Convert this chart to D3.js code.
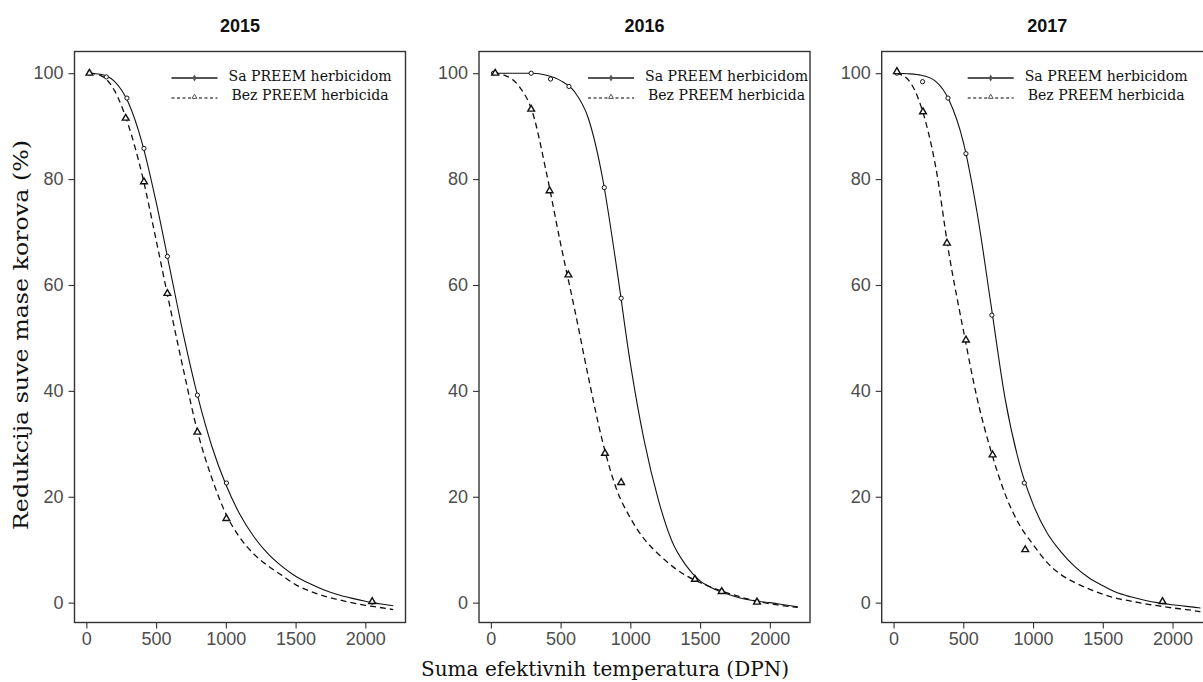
<!DOCTYPE html>
<html>
<head>
<meta charset="utf-8">
<script src="https://cdn.jsdelivr.net/npm/d3@7"></script>
<style>
  body { margin: 0; background: #fff; }
  .tick text { fill: #4d4d4d; }
</style>
</head>
<body>
<script>
// Redukcija suve mase korova - three years side by side

var years = ["2015", "2016", "2017"];
var seriesNames = ["Sa PREEM herbicidom", "Bez PREEM herbicida"];
var xTicks = [0, 500, 1000, 1500, 2000];
var yTicks = [0, 20, 40, 60, 80, 100];

// fitted curves at these DPN values
var curveX = [20, 100, 200, 300, 400, 500, 600, 700, 800, 900, 1000, 1100,
  1200, 1300, 1400, 1500, 1600, 1700, 1800, 1900, 2000, 2100, 2200];

var saCurve2015 = [100, 99.8, 98.5, 94.5, 86.8, 75.7, 62.9, 50.1, 38.8, 29.5, 22.3, 16.7,
  12.5, 9.3, 6.9, 5.0, 3.6, 2.45, 1.55, 0.85, 0.25, -0.2, -0.6];
var bezCurve2015 = [100, 99.6, 96.8, 90.3, 80.8, 68.5, 55.8, 43.5, 32.0, 23.5, 16.8, 12.3,
  9.2, 7.0, 5.2, 3.4, 2.2, 1.3, 0.6, 0.0, -0.5, -0.9, -1.3];
var saCurve2016 = [100, 100, 100, 100, 99.6, 98.6, 96.5, 91.4, 80.3, 63.6, 45.2, 30.5,
  19.5, 11.5, 7.0, 4.1, 2.6, 1.6, 0.8, 0.3, 0.0, -0.4, -0.8];
var bezCurve2016 = [100, 99.6, 97.6, 92.5, 81.0, 67.8, 55.5, 42.5, 30.5, 21.5, 16.0, 12.0,
  9.2, 6.9, 5.1, 3.8, 2.7, 1.8, 1.0, 0.3, -0.2, -0.6, -0.9];
var saCurve2017 = [100, 99.9, 99.6, 98.5, 94.8, 87.0, 73.5, 56.0, 38.5, 26.5, 18.6, 13.2,
  9.6, 6.8, 4.7, 3.2, 1.9, 1.1, 0.45, -0.05, -0.4, -0.7, -1.0];
var bezCurve2017 = [100, 98.9, 93.5, 82.6, 65.5, 51.5, 38.5, 28.5, 20.5, 14.8, 11.0, 7.6,
  5.3, 3.8, 2.6, 1.6, 0.8, 0.3, -0.2, -0.6, -1.0, -1.3, -1.7];

// measured points
var saX2015 = [22, 143, 291, 413, 581, 796, 1004, 2049];
var saY2015 = [100, 99.3, 95.3, 85.8, 65.4, 39.2, 22.6, 0.1];
var bezX2015 = [22, 282, 413, 581, 796, 1004, 2049];
var bezY2015 = [100, 91.5, 79.5, 58.4, 32.2, 15.9, 0.2];

var saX2016 = [19, 289, 428, 560, 813, 934, 1655, 1908];
var saY2016 = [100, 100, 98.9, 97.5, 78.4, 57.5, 2.2, 0.2];
var bezX2016 = [31, 289, 421, 556, 818, 934, 1463, 1655, 1908];
var bezY2016 = [100, 93.2, 77.8, 61.9, 28.2, 22.7, 4.4, 2.1, 0.1];

var saX2017 = [24, 208, 390, 519, 705, 937, 1928];
var saY2017 = [100, 98.4, 95.3, 84.8, 54.3, 22.6, 0.2];
var bezX2017 = [24, 211, 383, 519, 710, 944, 1928];
var bezY2017 = [100.3, 92.7, 67.9, 49.6, 27.9, 10.0, 0.2];

var saCurves = [saCurve2015, saCurve2016, saCurve2017];
var bezCurves = [bezCurve2015, bezCurve2016, bezCurve2017];
var saPts = [[saX2015, saY2015], [saX2016, saY2016], [saX2017, saY2017]];
var bezPts = [[bezX2015, bezY2015], [bezX2016, bezY2016], [bezX2017, bezY2017]];

function zip(xs, ys) {
  return xs.map(function (x, i) { return [x, ys[i]]; });
}

var W = 1203, H = 682;
var panelLeft = [74.5, 479, 881.7];
var panelW = 331;
var plotTop = 51.5, plotBottom = 622.5;
var tickFont = "'Liberation Sans', Arial, sans-serif";
var serif = "'DejaVu Serif', Georgia, serif";

var svg = d3.select("body").append("svg")
  .attr("width", W)
  .attr("height", H);

var y = d3.scaleLinear().domain([-3.75, 104.1]).range([plotBottom, plotTop]);

years.forEach(function (yr, i) {
  var left = panelLeft[i];
  var x = d3.scaleLinear().domain([-85, 2288]).range([left, left + panelW]);
  var g = svg.append("g");

  // title
  g.append("text")
    .attr("x", left + panelW / 2)
    .attr("y", 32)
    .attr("text-anchor", "middle")
    .style("font-family", tickFont)
    .style("font-weight", "bold")
    .style("font-size", "18px")
    .style("fill", "#111")
    .text(yr);

  // axes
  var xa = g.append("g")
    .attr("transform", "translate(0," + plotBottom + ")")
    .call(d3.axisBottom(x).tickValues(xTicks).tickFormat(d3.format("d")).tickSize(6).tickPadding(4));
  var ya = g.append("g")
    .attr("transform", "translate(" + left + ",0)")
    .call(d3.axisLeft(y).tickValues(yTicks).tickSize(6).tickPadding(5));
  [xa, ya].forEach(function (a) {
    a.select(".domain").remove();
    a.selectAll(".tick line").attr("stroke", "#333").attr("stroke-width", 1.1);
    a.selectAll(".tick text")
      .style("font-family", tickFont)
      .style("font-size", "18px");
  });

  var line = d3.line()
    .x(function (d) { return x(d[0]); })
    .y(function (d) { return y(d[1]); })
    .curve(d3.curveMonotoneX);

  g.append("path")
    .datum(zip(curveX, saCurves[i]))
    .attr("d", line)
    .attr("fill", "none")
    .attr("stroke", "#111")
    .attr("stroke-width", 1.1);

  g.append("path")
    .datum(zip(curveX, bezCurves[i]))
    .attr("d", line)
    .attr("fill", "none")
    .attr("stroke", "#111")
    .attr("stroke-width", 1.3)
    .attr("stroke-dasharray", "6,4");

  var circ = d3.symbol().type(d3.symbolCircle).size(14);
  var tri = d3.symbol().type(d3.symbolTriangle).size(20);

  g.selectAll(".sa")
    .data(zip(saPts[i][0], saPts[i][1]))
    .enter().append("path")
    .attr("transform", function (d) { return "translate(" + x(d[0]) + "," + y(d[1]) + ")"; })
    .attr("d", circ)
    .attr("fill", "#fff")
    .attr("stroke", "#111")
    .attr("stroke-width", 1);

  g.selectAll(".bez")
    .data(zip(bezPts[i][0], bezPts[i][1]))
    .enter().append("path")
    .attr("transform", function (d) { return "translate(" + x(d[0]) + "," + y(d[1]) + ")"; })
    .attr("d", tri)
    .attr("fill", "#fff")
    .attr("stroke", "#111")
    .attr("stroke-width", 1.4);

  // panel border
  g.append("rect")
    .attr("x", left)
    .attr("y", plotTop)
    .attr("width", panelW)
    .attr("height", plotBottom - plotTop)
    .attr("fill", "none")
    .attr("stroke", "#333")
    .attr("stroke-width", 1.4);

  // legend
  var lx = left + [97, 109, 86][i];
  var lg = g.append("g");
  lg.append("line")
    .attr("x1", lx).attr("x2", lx + 46)
    .attr("y1", 78).attr("y2", 78)
    .attr("stroke", "#555").attr("stroke-width", 2);
  lg.append("path")
    .attr("transform", "translate(" + (lx + 23) + ",78)")
    .attr("d", d3.symbol().type(d3.symbolDiamond).size(14))
    .attr("fill", "#555");
  lg.append("line")
    .attr("x1", lx).attr("x2", lx + 46)
    .attr("y1", 98).attr("y2", 98)
    .attr("stroke", "#555").attr("stroke-width", 1.6)
    .attr("stroke-dasharray", "3,2.5");
  lg.append("path")
    .attr("transform", "translate(" + (lx + 23) + ",97)")
    .attr("d", d3.symbol().type(d3.symbolTriangle).size(10))
    .attr("fill", "#fff").attr("stroke", "#555");
  seriesNames.forEach(function (s, k) {
    lg.append("text")
      .attr("x", lx + 57 + k * 3)
      .attr("y", 81 + k * 19)
      .attr("textLength", 163 - k * 6)
      .attr("lengthAdjust", "spacingAndGlyphs")
      .style("font-family", serif)
      .style("font-size", "15px")
      .style("fill", "#111")
      .text(s);
  });
});

// axis titles
svg.append("text")
  .attr("transform", "translate(28,335) rotate(-90)")
  .attr("text-anchor", "middle")
  .attr("textLength", 390)
  .attr("lengthAdjust", "spacingAndGlyphs")
  .style("font-family", serif)
  .style("font-size", "20px")
  .style("fill", "#111")
  .text("Redukcija suve mase korova (%)");

svg.append("text")
  .attr("x", 605)
  .attr("y", 676)
  .attr("text-anchor", "middle")
  .attr("textLength", 368)
  .attr("lengthAdjust", "spacingAndGlyphs")
  .style("font-family", serif)
  .style("font-size", "20px")
  .style("fill", "#111")
  .text("Suma efektivnih temperatura (DPN)");
</script>
</body>
</html>
